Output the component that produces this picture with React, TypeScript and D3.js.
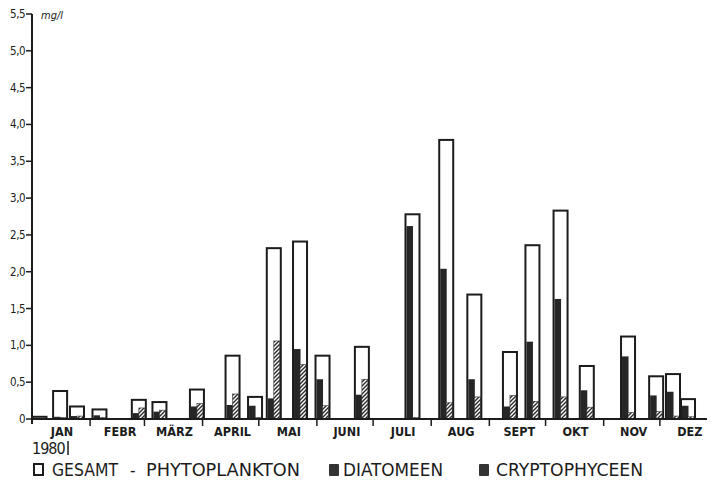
import React from "react";
import * as d3 from "d3";

const sampleDates = [
  "1980-01-05", "1980-01-16", "1980-01-25", "1980-02-06", "1980-02-27", "1980-03-09",
  "1980-03-29", "1980-04-17", "1980-04-29", "1980-05-09", "1980-05-23", "1980-06-04",
  "1980-06-25", "1980-07-22", "1980-08-09", "1980-08-24", "1980-09-12", "1980-09-24",
  "1980-10-09", "1980-10-23", "1980-11-14", "1980-11-29", "1980-12-08", "1980-12-16",
];
const gesamt = [0.03, 0.38, 0.17, 0.13, 0.26, 0.23, 0.4, 0.86, 0.3, 2.32, 2.41, 0.86, 0.98, 2.78, 3.79, 1.69, 0.91, 2.36, 2.83, 0.72, 1.12, 0.58, 0.61, 0.27];
const diatomeen = [0.01, 0.03, 0.04, 0.05, 0.08, 0.1, 0.17, 0.19, 0.18, 0.28, 0.95, 0.54, 0.33, 2.62, 2.04, 0.54, 0.17, 1.05, 1.63, 0.39, 0.85, 0.32, 0.37, 0.18];
const cryptophyceen = [0.01, 0.02, 0.04, 0.02, 0.15, 0.12, 0.21, 0.34, 0.02, 1.06, 0.74, 0.18, 0.54, 0.02, 0.22, 0.3, 0.32, 0.24, 0.3, 0.16, 0.09, 0.1, 0.04, 0.03];
const monthLabels = ["JAN", "FEBR", "MÄRZ", "APRIL", "MAI", "JUNI", "JULI", "AUG", "SEPT", "OKT", "NOV", "DEZ"];
const yTickValues = [0, 0.5, 1, 1.5, 2, 2.5, 3, 3.5, 4, 4.5, 5, 5.5];
const yTickLabels = ["0", "0,5", "1,0", "1,5", "2,0", "2,5", "3,0", "3,5", "4,0", "4,5", "5,0", "5,5"];
const legendLabels = ["GESAMT", "-", "PHYTOPLANKTON", "DIATOMEEN", "CRYPTOPHYCEEN"];
const yearLabel = "1980";
const unitLabel = "mg/l";

const W = 712;
const H = 485;
const INK = "#1c1c1c";
const FONT = "'DejaVu Sans Condensed', 'DejaVu Sans', sans-serif";

export default function App() {
  const parse = d3.timeParse("%Y-%m-%d");
  const x = d3.scaleTime()
    .domain([new Date(1980, 0, 1), new Date(1981, 0, 1)])
    .range([32, 718]);
  const y = d3.scaleLinear().domain([0, 5.5]).range([419, 14]);
  const monthStarts = d3.timeMonth.range(new Date(1980, 0, 1), new Date(1981, 0, 1));
  const barW = 14;
  const half = 6;

  return (
    <svg width={W} height={H} style={{ position: "absolute", left: 0, top: 0, background: "#fff" }}>
      <defs>
        <pattern id="hatch" patternUnits="userSpaceOnUse" width="4" height="4">
          <rect width="4" height="4" fill="#fff" />
          <path d="M-1,1 l2,-2 M0,4 l4,-4 M3,5 l2,-2" stroke="#2a2a2a" strokeWidth="1.4" />
        </pattern>
      </defs>

      {/* Y axis */}
      <line x1={32} x2={32} y1={y(5.5)} y2={424} stroke={INK} strokeWidth={2} />
      {yTickValues.map((v, i) => (
        <g key={"yt" + i}>
          <line x1={26} x2={32} y1={y(v)} y2={y(v)} stroke={INK} strokeWidth={1.5} />
          <text x={25} y={y(v) + 4} textAnchor="end" fontFamily={FONT} fontSize={11.5} fill={INK} letterSpacing={-0.5}>
            {yTickLabels[i]}
          </text>
        </g>
      ))}
      <text x={41} y={19} fontFamily={FONT} fontSize={11} fill={INK} fontStyle="italic">{unitLabel}</text>

      {/* bars */}
      {sampleDates.map((ds, i) => {
        const cx = x(parse(ds)!);
        const left = cx - barW / 2;
        const base = y(0);
        return (
          <g key={"b" + i}>
            <rect x={left + 1} y={y(diatomeen[i])} width={half + 0.5} height={base - y(diatomeen[i])} fill="#262626" />
            <rect x={left + 1 + half} y={y(cryptophyceen[i])} width={half} height={base - y(cryptophyceen[i])} fill="url(#hatch)" stroke="#333" strokeWidth={0.6} />
            <rect x={left} y={y(gesamt[i])} width={barW} height={base - y(gesamt[i])} fill="none" stroke={INK} strokeWidth={2} />
          </g>
        );
      })}

      {/* X axis */}
      <line x1={31} x2={707} y1={y(0)} y2={y(0)} stroke={INK} strokeWidth={2} />
      {monthStarts.slice(1).map((m, i) => (
        <line key={"xt" + i} x1={x(m)} x2={x(m)} y1={y(0)} y2={y(0) + 7} stroke={INK} strokeWidth={1.5} />
      ))}
      {monthStarts.map((m, i) => {
        const mid = x(d3.timeDay.offset(m, 16));
        return (
          <text key={"ml" + i} x={mid} y={436} textAnchor="middle" fontFamily={FONT} fontSize={12.5} fill={INK} fontWeight="bold">
            {monthLabels[i]}
          </text>
        );
      })}

      {/* year */}
      <text x={32} y={454} fontFamily={FONT} fontSize={16} fill={INK} letterSpacing={-1}>{yearLabel}</text>
      <line x1={68} x2={68} y1={441} y2={455} stroke={INK} strokeWidth={1.5} />

      {/* legend */}
      <rect x={34} y={464} width={9} height={11} fill="none" stroke={INK} strokeWidth={2} />
      <text x={52} y={476} fontFamily={FONT} fontSize={17} fill={INK} textLength={66} lengthAdjust="spacingAndGlyphs">{legendLabels[0]}</text>
      <text x={130} y={476} fontFamily={FONT} fontSize={17} fill={INK}>{legendLabels[1]}</text>
      <text x={146} y={476} fontFamily={FONT} fontSize={17} fill={INK} textLength={154} lengthAdjust="spacingAndGlyphs">{legendLabels[2]}</text>
      <rect x={329} y={464} width={10} height={12} rx={1} fill="#333" />
      <text x={343} y={476} fontFamily={FONT} fontSize={17} fill={INK} textLength={100} lengthAdjust="spacingAndGlyphs">{legendLabels[3]}</text>
      <rect x={479} y={464} width={10} height={12} rx={1} fill="#333" />
      <text x={496} y={476} fontFamily={FONT} fontSize={17} fill={INK} textLength={147} lengthAdjust="spacingAndGlyphs">{legendLabels[4]}</text>
    </svg>
  );
}
